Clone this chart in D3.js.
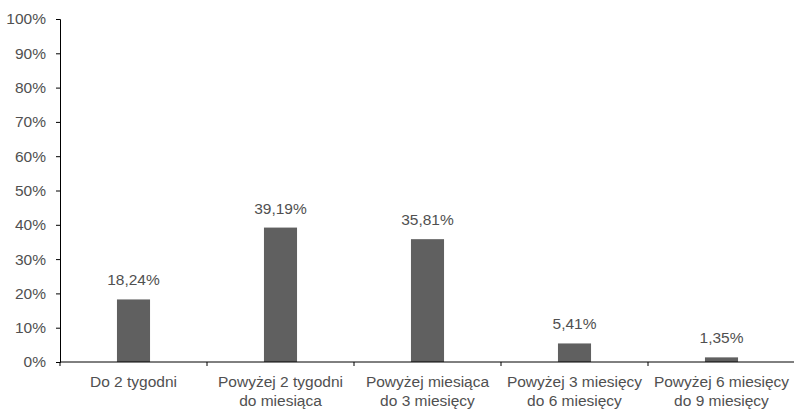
<!DOCTYPE html>
<html><head><meta charset="utf-8">
<script src="https://cdn.jsdelivr.net/npm/d3@7"></script>
<style>
body{margin:0;background:#fff;}
text{font-family:"Liberation Sans",Arial,sans-serif;}
</style></head>
<body>
<svg id="c" width="794" height="411"></svg>
<script>
const categories = [["Do 2 tygodni"],["Powyżej 2 tygodni","do miesiąca"],["Powyżej miesiąca","do 3 miesięcy"],["Powyżej 3 miesięcy","do 6 miesięcy"],["Powyżej 6 miesięcy","do 9 miesięcy"]];
const values = [18.24, 39.19, 35.81, 5.41, 1.35];
const valueLabels = ["18,24%","39,19%","35,81%","5,41%","1,35%"];
const yTicks = [0,10,20,30,40,50,60,70,80,90,100];

const svg = d3.select("#c");
const m = {left:60, right:-1, top:19, bottom:49};
const W = 794, H = 411;
const fs = 15.5;
const x = d3.scaleBand().domain(d3.range(categories.length)).range([m.left, W - m.right]).paddingInner(0).paddingOuter(0);
const y = d3.scaleLinear().domain([0,100]).range([H - m.bottom, m.top]);
const textColor = "#505050";

// y axis
const ya = svg.append("g").attr("transform",`translate(${m.left},0)`)
  .call(d3.axisLeft(y).tickValues(yTicks).tickFormat(d=>d+"%").tickSize(4).tickPadding(10));
ya.select(".domain").attr("stroke","#000");
ya.selectAll(".tick line").attr("stroke","#000");
ya.selectAll("text").attr("font-size",fs).attr("fill",textColor);

// bars
const bw = x.bandwidth()*0.225;
svg.append("g").selectAll("rect").data(values).join("rect")
  .attr("x",(d,i)=>x(i)+x.bandwidth()/2-bw/2)
  .attr("y",d=>y(d))
  .attr("width",bw)
  .attr("height",d=>y(0)-y(d))
  .attr("fill","#606060");

// value labels
svg.append("g").selectAll("text").data(values).join("text")
  .attr("x",(d,i)=>x(i)+x.bandwidth()/2)
  .attr("y",d=>y(d)-14)
  .attr("text-anchor","middle")
  .attr("font-size",fs).attr("fill",textColor)
  .text((d,i)=>valueLabels[i]);

// x axis line and ticks
const xa = svg.append("g").attr("transform",`translate(0,${y(0)})`);
xa.append("line").attr("x1",m.left).attr("x2",W).attr("stroke","#000");
const bounds = d3.range(categories.length+1).map(i=> i<categories.length ? x(i) : x(i-1)+x.bandwidth());
xa.selectAll("line.t").data(bounds).join("line").attr("class","t")
  .attr("x1",d=>d).attr("x2",d=>d).attr("y1",0).attr("y2",4).attr("stroke","#000");

// category labels
const cl = svg.append("g").selectAll("text").data(categories).join("text")
  .attr("x",(d,i)=>x(i)+x.bandwidth()/2)
  .attr("y",y(0)+25)
  .attr("text-anchor","middle")
  .attr("font-size",fs).attr("fill",textColor);
cl.selectAll("tspan").data(d=>d).join("tspan")
  .attr("x",function(){return this.parentNode.getAttribute("x");})
  .attr("dy",(d,i)=>i===0?0:18.5)
  .text(d=>d);
</script>
</body></html>
